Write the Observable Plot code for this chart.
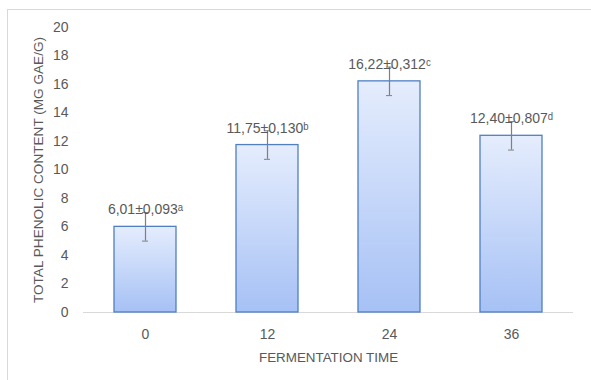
<!DOCTYPE html>
<html>
<head>
<meta charset="utf-8">
<script src="https://cdn.jsdelivr.net/npm/d3@7"></script>
<script src="https://cdn.jsdelivr.net/npm/@observablehq/plot@0.6"></script>
<style>
  html, body { margin: 0; padding: 0; background: #fff; }
  #wrap { position: relative; width: 591px; height: 380px; overflow: hidden; }
  #frame { position: absolute; left: 7px; top: 9px; width: 640px; height: 420px; border-left: 1px solid #d9d9d9; border-top: 1px solid #d9d9d9; }
  #chart { position: absolute; left: 0; top: 0; }
</style>
</head>
<body>
<div id="wrap"><div id="frame"></div><div id="chart"></div></div>
<script>
const times = ["0", "12", "24", "36"];
const means = [6.01, 11.75, 16.22, 12.40];
const errors = [1, 1, 1, 1];
const labels = ["6,01±0,093ᵃ", "11,75±0,130ᵇ", "16,22±0,312ᶜ", "12,40±0,807ᵈ"];
const yTicks = [0, 2, 4, 6, 8, 10, 12, 14, 16, 18, 20];
const yTitle = "TOTAL PHENOLIC CONTENT (MG GAE/G)";
const xTitle = "FERMENTATION TIME";

const data = times.map((t, i) => ({time: t, mean: means[i], err: errors[i], label: labels[i]}));
const textColor = "#595959";
const font = "Liberation Sans, Arial, sans-serif";

const chart = Plot.plot({
  width: 591,
  height: 380,
  marginLeft: 83,
  marginRight: 18,
  marginTop: 27,
  marginBottom: 68,
  style: {fontFamily: font, fontSize: "14px", color: textColor, background: "transparent"},
  x: {domain: times, paddingInner: 0.49, paddingOuter: 0.245, label: null, tickSize: 0, tickPadding: 17},
  y: {domain: [0, 20], ticks: yTicks, label: null, tickSize: 0, tickPadding: 15},
  marks: [
    () => {
      const defs = d3.create("svg:defs");
      const g = defs.append("linearGradient").attr("id", "barGrad")
        .attr("x1", 0).attr("y1", 0).attr("x2", 0).attr("y2", 1);
      g.append("stop").attr("offset", "0%").attr("stop-color", "#e5edfd");
      g.append("stop").attr("offset", "100%").attr("stop-color", "#a6c1f5");
      return defs.node();
    },
    Plot.ruleY([0], {stroke: "#d9d9d9", strokeWidth: 1}),
    Plot.barY(data, {x: "time", y: "mean", fill: "url(#barGrad)", stroke: "#4f7fc2", strokeWidth: 1.3}),
    Plot.ruleX(data, {x: "time", y1: d => d.mean - d.err, y2: d => d.mean + d.err, stroke: "#7f7f7f", strokeWidth: 1.2}),
    Plot.tickY(data, {x: "time", y: d => d.mean - d.err, stroke: "#7f7f7f", insetLeft: 28, insetRight: 28}),
    Plot.tickY(data, {x: "time", y: d => d.mean + d.err, stroke: "#7f7f7f", insetLeft: 28, insetRight: 28}),
    Plot.text(data, {x: "time", y: "mean", text: "label", dy: -17, fill: textColor, fontSize: 14}),
    Plot.text([yTitle], {text: d => d, frameAnchor: "left", textAnchor: "middle", rotate: -90, dx: -45, fill: textColor, fontSize: 13.6}),
    Plot.text([xTitle], {text: d => d, frameAnchor: "bottom", textAnchor: "middle", dy: 49, fill: textColor, fontSize: 13.4})
  ]
});
document.getElementById("chart").appendChild(chart);
</script>
</body>
</html>
